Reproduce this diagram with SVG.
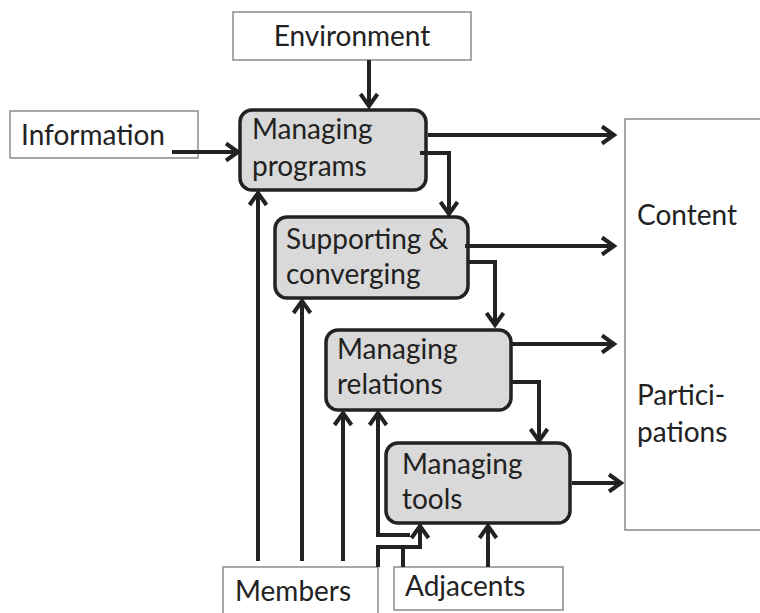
<svg xmlns="http://www.w3.org/2000/svg" width="760" height="613" viewBox="0 0 760 613">
<style>
.ext{fill:#fff;stroke:#8a8a8a;stroke-width:1.5}
.node{fill:#d9d9d9;stroke:#222;stroke-width:3.5}
.t{font-family:Lato,"Liberation Sans",sans-serif;font-size:28px;fill:#222}
.c{fill:none;stroke:#222;stroke-width:4}
</style>
<defs>
<marker id="ah" markerUnits="userSpaceOnUse" markerWidth="22" markerHeight="22" viewBox="-15 -11 17 22" refX="0" refY="0" orient="auto-start-reverse">
<path d="M-12,-8.5 L0,0 L-12,8.5" fill="none" stroke="#222" stroke-width="4"/>
</marker>
</defs>
<g id="environment"><rect class="ext" x="233" y="12" width="238" height="48"/><text class="t" x="352" y="46" text-anchor="middle">Environment</text></g>
<g id="information"><rect class="ext" x="10" y="111" width="188" height="47"/><text class="t" x="21" y="145">Information</text></g>
<g id="content"><rect class="ext" x="625" y="119" width="140" height="411"/><text class="t" x="637" y="225">Content</text><text class="t" x="637" y="405">Partici-</text><text class="t" x="637" y="442">pations</text></g>
<g id="members"><rect class="ext" x="223" y="567" width="155" height="50"/><text class="t" x="235" y="601">Members</text></g>
<g id="adjacents"><rect class="ext" x="394" y="567" width="169" height="43"/><text class="t" x="405" y="596">Adjacents</text></g>
<g id="managing-programs"><rect class="node" x="240" y="110" width="186" height="80" rx="12"/><text class="t" x="252" y="139">Managing</text><text class="t" x="252" y="176">programs</text></g>
<g id="supporting"><rect class="node" x="275" y="217" width="193" height="81" rx="12"/><text class="t" x="286" y="249">Supporting &amp;</text><text class="t" x="286" y="284">converging</text></g>
<g id="managing-relations"><rect class="node" x="326" y="330" width="185" height="80" rx="12"/><text class="t" x="337" y="359">Managing</text><text class="t" x="337" y="394">relations</text></g>
<g id="managing-tools"><rect class="node" x="386" y="443" width="184" height="80" rx="12"/><text class="t" x="402" y="474">Managing</text><text class="t" x="402" y="509">tools</text></g>
<g id="connectors">
<path class="c" d="M369,60 V106" marker-end="url(#ah)"/>
<path class="c" d="M172,152 H238" marker-end="url(#ah)"/>
<path class="c" d="M428,135 H614" marker-end="url(#ah)"/>
<path class="c" d="M420,153 H449 V214" marker-end="url(#ah)"/>
<path class="c" d="M465,246 H614" marker-end="url(#ah)"/>
<path class="c" d="M468,262 H495 V325" marker-end="url(#ah)"/>
<path class="c" d="M511,344 H614" marker-end="url(#ah)"/>
<path class="c" d="M511,382 H539 V441" marker-end="url(#ah)"/>
<path class="c" d="M572,483 H621" marker-end="url(#ah)"/>
<path class="c" d="M258,561 V193" marker-end="url(#ah)"/>
<path class="c" d="M302,561 V301" marker-end="url(#ah)"/>
<path class="c" d="M343,561 V413" marker-end="url(#ah)"/>
<path class="c" d="M410,535 H378 V413" marker-end="url(#ah)"/>
<path class="c" d="M378,567 V547 H420 V526" marker-end="url(#ah)"/>
<path class="c" d="M403,547 V567"/>
<path class="c" d="M488,567 V526" marker-end="url(#ah)"/>
</g>
</svg>
